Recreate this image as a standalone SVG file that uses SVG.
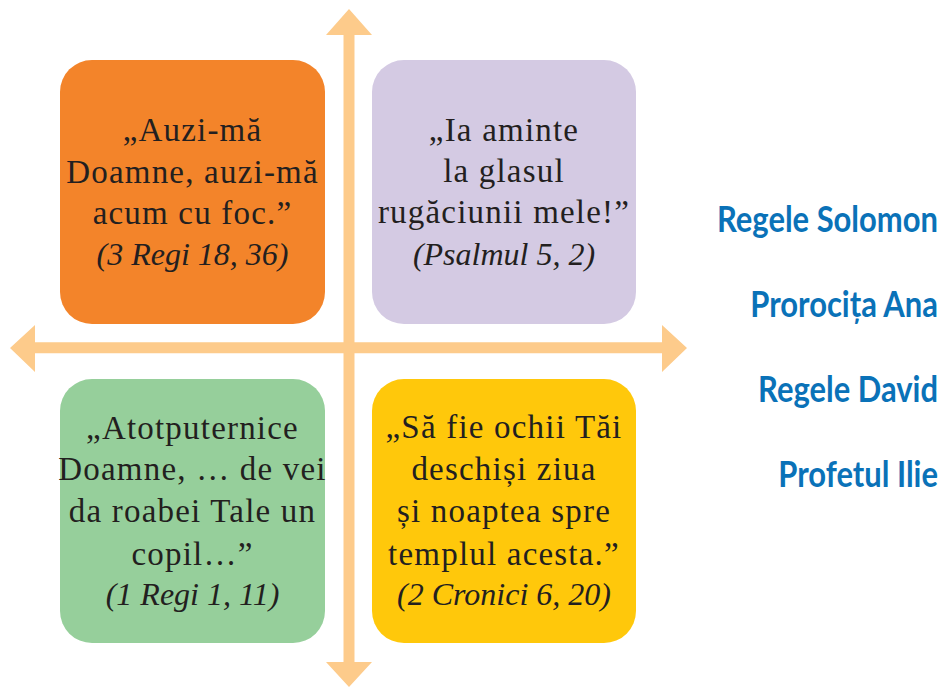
<svg xmlns="http://www.w3.org/2000/svg" width="943" height="687" viewBox="0 0 943 687">
<style>
.box{stroke:none}
.q{font-family:"Liberation Serif","Times New Roman",serif;font-size:33px;fill:#231f20;text-anchor:middle;letter-spacing:1.2px}
.r{font-family:"Liberation Serif","Times New Roman",serif;font-size:32px;font-style:italic;fill:#231f20;text-anchor:middle}
.lbl{font-family:Lato,"Liberation Sans",sans-serif;font-weight:bold;font-size:36px;fill:#0a72b8;text-anchor:end}
.arr{fill:#fdcb8b}
</style>
<rect width="943" height="687" fill="#ffffff"/>
<g id="connectors">
  <polygon class="arr" points="349,9 372,35 354.5,35 354.5,662 372,662 349,687 326,662 343.5,662 343.5,35 326,35"/>
  <polygon class="arr" points="10,348 35,325 35,342.3 662,342.3 662,325 687,348 662,372 662,353.3 35,353.3 35,372"/>
</g>
<g id="node-orange">
  <rect class="box" x="60" y="60" width="265" height="264" rx="32" fill="#f3842a"/>
  <text class="q" x="192.5" y="141">„Auzi-mă</text>
  <text class="q" x="192.5" y="183">Doamne, auzi-mă</text>
  <text class="q" x="192.5" y="223.5">acum cu foc.”</text>
  <text class="r" x="192.5" y="264.5">(3 Regi 18, 36)</text>
</g>
<g id="node-purple">
  <rect class="box" x="372" y="60" width="264" height="264" rx="32" fill="#d4cae3"/>
  <text class="q" x="504" y="141">„Ia aminte</text>
  <text class="q" x="504" y="182">la glasul</text>
  <text class="q" x="504" y="223">rugăciunii mele!”</text>
  <text class="r" x="504" y="265">(Psalmul 5, 2)</text>
</g>
<g id="node-green">
  <rect class="box" x="60" y="379" width="265" height="264" rx="32" fill="#96cf9b"/>
  <text class="q" x="192.5" y="438.5">„Atotputernice</text>
  <text class="q" x="192.5" y="480">Doamne, … de vei</text>
  <text class="q" x="192.5" y="522">da roabei Tale un</text>
  <text class="q" x="192.5" y="564.5">copil…”</text>
  <text class="r" x="192.5" y="605">(1 Regi 1, 11)</text>
</g>
<g id="node-yellow">
  <rect class="box" x="372" y="379" width="264" height="264" rx="32" fill="#ffc80b"/>
  <text class="q" x="504" y="437.5">„Să fie ochii Tăi</text>
  <text class="q" x="504" y="480">deschiși ziua</text>
  <text class="q" x="504" y="522">și noaptea spre</text>
  <text class="q" x="504" y="564.5">templul acesta.”</text>
  <text class="r" x="504" y="605">(2 Cronici 6, 20)</text>
</g>
<g id="labels">
  <text class="lbl" transform="translate(938,231.5) scale(0.86,1)">Regele Solomon</text>
  <text class="lbl" transform="translate(938,317) scale(0.86,1)">Prorocița Ana</text>
  <text class="lbl" transform="translate(938,402) scale(0.86,1)">Regele David</text>
  <text class="lbl" transform="translate(938,486.5) scale(0.86,1)">Profetul Ilie</text>
</g>
</svg>
